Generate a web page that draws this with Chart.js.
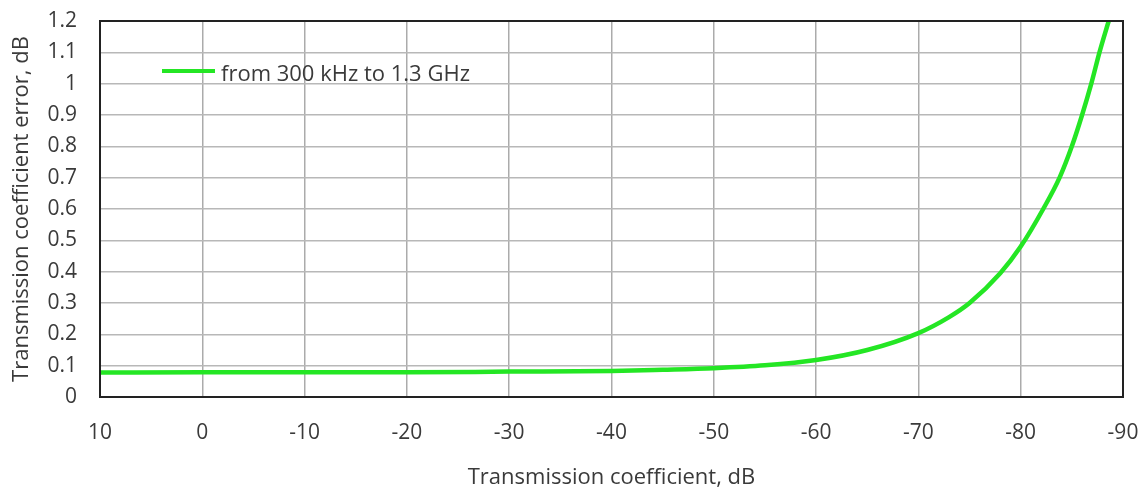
<!DOCTYPE html>
<html>
<head>
<meta charset="utf-8">
<script src="https://cdn.jsdelivr.net/npm/chart.js@4/dist/chart.umd.min.js"></script>
<style>
  html, body { margin: 0; padding: 0; background: #fff; }
  #wrap { width: 1148px; height: 492px; position: relative; }
</style>
</head>
<body>
<div id="wrap"><canvas id="c" width="1148" height="492"></canvas></div>
<script>
// Transmission coefficient (dB) and measurement error (dB)
const transmissionDb = [10, 0, -10, -20, -30, -40, -45, -50, -55, -60, -65, -70, -73, -75, -78, -80, -82.2, -83.8, -85, -86, -86.9, -87.7, -88.6];
const errorDb        = [0.078, 0.079, 0.079, 0.079, 0.081, 0.083, 0.087, 0.092, 0.101, 0.118, 0.150, 0.204, 0.255, 0.30, 0.395, 0.48, 0.60, 0.70, 0.80, 0.90, 1.00, 1.10, 1.20];
const seriesLabel = 'from 300 kHz to 1.3 GHz';
const xTicks = [10, 0, -10, -20, -30, -40, -50, -60, -70, -80, -90];
const yTicks = [0, 0.1, 0.2, 0.3, 0.4, 0.5, 0.6, 0.7, 0.8, 0.9, 1, 1.1, 1.2];
const xTitle = 'Transmission coefficient, dB';
const yTitle = 'Transmission coefficient error, dB';

const FONT = '"Open Sans", "DejaVu Sans", sans-serif';
const TEXT = '#3a3a3a';
const GREEN = 'rgb(36,230,36)';

const points = transmissionDb.map((x, i) => ({ x, y: errorDb[i] }));

// Legend drawn inside the plot, top-left
const innerLegend = {
  id: 'innerLegend',
  afterDatasetsDraw(chart) {
    const ctx = chart.ctx;
    const ds = chart.data.datasets[0];
    const area = chart.chartArea;
    const x0 = area.left + 62, y0 = area.top + 50;
    ctx.save();
    ctx.strokeStyle = ds.borderColor;
    ctx.lineWidth = 4;
    ctx.beginPath();
    ctx.moveTo(x0, y0);
    ctx.lineTo(x0 + 53, y0);
    ctx.stroke();
    ctx.fillStyle = TEXT;
    ctx.font = '22px ' + FONT;
    ctx.textBaseline = 'middle';
    ctx.fillText(ds.label, x0 + 59, y0 + 4);
    ctx.restore();
  }
};

// Heavy frame around the plotting area
const frame = {
  id: 'frame',
  afterDraw(chart) {
    const a = chart.chartArea, ctx = chart.ctx;
    ctx.save();
    ctx.strokeStyle = '#222';
    ctx.lineWidth = 2;
    ctx.strokeRect(a.left, a.top, a.right - a.left, a.bottom - a.top);
    ctx.restore();
  }
};

new Chart(document.getElementById('c'), {
  type: 'line',
  data: {
    datasets: [{
      label: seriesLabel,
      data: points,
      borderColor: GREEN,
      borderWidth: 4.5,
      pointRadius: 0,
      cubicInterpolationMode: 'monotone',
      fill: false
    }]
  },
  options: {
    responsive: false,
    animation: false,
    devicePixelRatio: 1,
    layout: { padding: { left: 0, right: 25, top: 21, bottom: 0 } },
    plugins: { legend: { display: false }, tooltip: { enabled: false } },
    scales: {
      x: {
        type: 'linear',
        reverse: true,
        min: -90,
        max: 10,
        afterBuildTicks(scale) { scale.ticks = xTicks.map(v => ({ value: v })); },
        afterFit(scale) {
          scale.height = 95;
          scale.paddingLeft = 0;
          scale.paddingRight = 0;
        },
        grid: { color: '#ababab', lineWidth: 1.5, drawTicks: false },
        border: { display: false },
        ticks: {
          padding: 23,
          color: TEXT,
          font: { family: FONT, size: 21 },
          maxRotation: 0,
          autoSkip: false,
          callback: v => String(v)
        },
        title: {
          display: true,
          text: xTitle,
          color: TEXT,
          font: { family: FONT, size: 22 },
          padding: { top: 0, bottom: 1 }
        }
      },
      y: {
        min: 0,
        max: 1.2,
        afterBuildTicks(scale) { scale.ticks = yTicks.map(v => ({ value: v })); },
        afterFit(scale) {
          scale.width = 100;
          scale.paddingTop = 0;
          scale.paddingBottom = 0;
        },
        grid: { color: '#b8b8b8', lineWidth: 1.5, drawTicks: false },
        border: { display: false },
        ticks: {
          padding: 23,
          color: TEXT,
          font: { family: FONT, size: 21 },
          autoSkip: false,
          callback: v => String(Math.round(v * 10) / 10)
        },
        title: {
          display: true,
          text: yTitle,
          color: TEXT,
          font: { family: FONT, size: 22 },
          padding: { top: 9, bottom: 0 }
        }
      }
    }
  },
  plugins: [innerLegend, frame]
});
</script>
</body>
</html>
